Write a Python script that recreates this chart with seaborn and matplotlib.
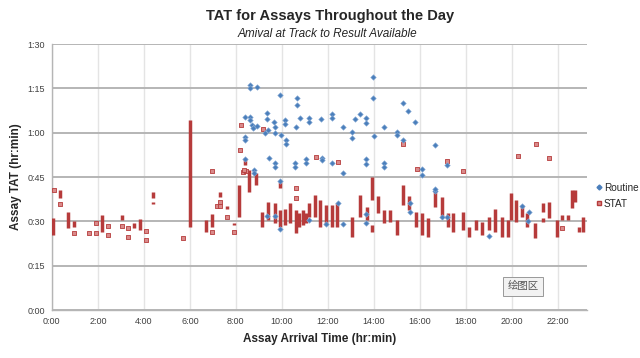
import numpy as np
import pandas as pd
import seaborn as sns
import matplotlib.pyplot as plt
from matplotlib.lines import Line2D

# Routine samples: arrival time (hours), TAT (minutes)
routine_x = [8.6, 8.6, 8.9, 9.9, 10.64, 10.64, 13.96, 13.96, 15.26, 15.5, 15.8,
             8.4, 8.6, 8.6, 9.35, 9.35, 9.67, 9.7, 9.7, 10.13, 10.13,
             8.7, 8.8, 8.9, 8.75, 8.4, 8.4, 9.26, 9.4, 9.96, 10.2, 10.2, 10.6,
             10.8, 11.2, 11.2, 11.7, 12.2, 12.2, 13.2, 12.65, 13.07, 13.07, 13.4,
             13.65, 13.65, 14.0, 14.43, 14.99, 14.99, 16.65, 17.2, 16.1, 16.1, 15.26,
             9.43, 9.7, 9.7, 10.57, 10.57, 11.04, 11.04, 11.73, 11.73, 12.2, 12.65,
             13.65, 13.65, 14.43, 14.43, 8.78, 8.78, 8.4, 9.9,
             9.35, 9.7, 9.9, 11.2, 11.94, 12.65, 12.43, 13.65, 13.65, 15.56, 15.56,
             16.65, 16.65, 17.2, 16.94, 20.46, 20.74, 20.7, 19.0]
routine_y = [76, 75, 75.5, 72.7, 71.7, 69.4, 78.8, 71.7, 70, 67.3, 63.6,
             65.3, 65.3, 64.3, 66.6, 64.6, 63.6, 62, 60, 64.3, 63,
             62.6, 62, 62.3, 61.6, 58.5, 57.5, 60, 61, 59.2, 57.5, 56.2, 62,
             64.9, 64.9, 63.6, 64.6, 66.3, 65, 64.6, 62, 60.2, 58.2, 66.3,
             65, 63.3, 58.9, 62, 60.2, 59.2, 55.8, 49, 47.7, 45.7, 57.5,
             51.4, 49.7, 48.4, 49.7, 48.4, 51, 49.7, 51.4, 50.7, 49.7, 46.3,
             51, 49.4, 49.7, 48.4, 47.4, 46.3, 51, 43.5,
             31.8, 31.8, 27.4, 30.4, 29.1, 29.1, 36.2, 32.5, 29.4, 36.2, 33.2,
             40.4, 41, 31.5, 31.5, 35.2, 33.3, 30, 25.1]

# STAT single samples
stat_x = [0.09, 0.35, 0.96, 1.6, 1.9, 1.9, 2.45, 2.45, 3.05, 3.3, 3.3, 4.1, 4.1,
          5.7, 6.98, 6.98, 7.3, 7.2, 7.3, 7.6, 7.9, 8.17, 8.24, 8.3, 8.45, 8.35,
          9.17, 10.6, 10.6, 11.5, 12.43, 15.26, 15.87, 17.2, 17.86, 20.25, 21.04,
          21.6, 22.2]
stat_y = [40.6, 35.9, 26, 26, 29.4, 26, 28.4, 25.4, 28.4, 27.7, 24.7, 26.7, 23.7,
          24.4, 26.4, 47, 36.5, 35.2, 35.2, 31.5, 26.4, 54.1, 62.6, 46.8, 47.2, 47.4,
          61.2, 41.3, 37.9, 51.8, 50, 56.2, 47.7, 50.4, 47.1, 52, 56.2,
          51.5, 27.7]

# STAT batches stacked at one arrival time: x, lowest TAT, highest TAT
batch_x = [0.05, 0.35, 0.7, 0.96, 2.17, 3.05, 3.57, 3.83, 4.4, 4.4, 6.0, 6.7, 6.98,
           7.3, 7.6, 7.9, 8.14, 8.4, 8.57, 8.87, 9.15, 9.4, 9.7, 9.9, 9.9, 10.13,
           10.35, 10.6, 10.74, 10.9, 11.07, 11.17, 11.43, 11.65, 11.94, 12.16, 12.38,
           13.03, 13.39, 13.68, 13.94, 13.94, 14.16, 14.45, 14.7, 14.99, 15.25, 15.54,
           15.83, 16.1, 16.36, 16.65, 16.94, 17.23, 17.45, 17.88, 18.13, 18.43, 18.7,
           19.0, 19.26, 19.55, 19.84, 19.94, 20.2, 20.42, 20.67, 21.0, 21.36, 21.36,
           21.6, 21.98, 22.2, 22.45, 22.6, 22.74, 22.93, 23.1]
batch_lo = [25.4, 38, 27.7, 28, 26.4, 30.5, 27.7, 27, 38, 35.9, 28, 26.4, 28,
            38.2, 34.2, 28.7, 31.5, 49, 40, 42.3, 28, 30.4, 29.4, 41.3, 28, 28.7,
            29.4, 26, 28, 28.7, 29.4, 31.5, 31.5, 28, 28.7, 28, 28,
            24.7, 31.5, 30.4, 37.2, 26.4, 32.8, 29.4, 29.8, 25.4, 35.5, 33.8,
            28, 25.4, 24.7, 34.8, 31.5, 28, 26.4, 27, 24.7, 27, 25.4,
            27, 26.4, 24.7, 24.7, 30.4, 29.8, 31.5, 28, 24.4, 33.2, 29.8,
            31.1, 24.7, 30.4, 30.4, 34.5, 36.5, 26.4, 26.4]
batch_hi = [31.1, 40.5, 33, 30, 32, 32, 29.4, 30.8, 40, 36.5, 64.3, 30.4, 32.5,
            40, 35.2, 29.4, 42.3, 51.4, 47.4, 46.3, 33.2, 36.5, 36.2, 43.3, 33.8, 34.2,
            36.2, 33.8, 32.8, 33.8, 32.8, 36.2, 38.9, 37.2, 35.5, 35.5, 36.2,
            31.5, 38.9, 34.8, 45, 28.7, 38.6, 33.8, 33.8, 30.4, 42.3, 38.6,
            33.2, 32.8, 31.1, 40.9, 38.2, 32.8, 32.8, 33.2, 28, 30.4, 29.8,
            31.5, 34.2, 31.5, 30.4, 39.6, 37.2, 35.5, 32.8, 29.4, 36.2, 31.1,
            36.5, 30.4, 32.2, 32.2, 40.6, 40.6, 28, 31.5]

x_ticks = [0, 2, 4, 6, 8, 10, 12, 14, 16, 18, 20, 22]
y_ticks = [0, 15, 30, 45, 60, 75, 90]

BLUE = "#4a7ebb"
RED = "#b63b3b"
PINK = "#d98a8a"

sns.set_style("white")
plt.rcParams["font.family"] = ["Liberation Sans", "DejaVu Sans"]

routine = pd.DataFrame({"arrival": routine_x, "tat": routine_y})
stat = pd.DataFrame({"arrival": stat_x, "tat": stat_y})

fig = plt.figure(figsize=(6.4, 3.58), dpi=100)
ax = fig.add_axes([0.081, 0.134, 0.836, 0.743])

ax.vlines(batch_x, batch_lo, batch_hi, color=RED, linewidth=2.5, zorder=3)
sns.scatterplot(data=stat, x="arrival", y="tat", ax=ax, marker="s", s=10,
                color=PINK, edgecolor=RED, linewidth=0.6, zorder=4)
sns.scatterplot(data=routine, x="arrival", y="tat", ax=ax, marker="D", s=8,
                color=BLUE, edgecolor="#8fb0d8", linewidth=0.4, zorder=5)

ax.set_xlim(0, 23.26)
ax.set_ylim(0, 90)
ax.set_xticks(x_ticks)
ax.set_xticklabels([f"{h}:00" for h in x_ticks])
ax.set_yticks(y_ticks)
ax.set_yticklabels([f"{m // 60}:{m % 60:02d}" for m in y_ticks])
ax.tick_params(labelsize=6.5, colors="#404040", length=3, width=0.8, pad=2)
ax.tick_params(axis="both", color="#bbbbbb")

ax.grid(axis="y", color="#b5b5b5", linewidth=1.4, zorder=0)
ax.grid(axis="x", color="#e4e4e4", linewidth=1.0, zorder=0)
for side in ["top", "right"]:
    ax.spines[side].set_visible(False)
for side in ["left", "bottom"]:
    ax.spines[side].set_color("#b5b5b5")
    ax.spines[side].set_linewidth(1.0)

ax.set_xlabel("Assay Arrival Time (hr:min)", fontsize=8.5, fontweight="bold", labelpad=5)
ax.set_ylabel("Assay TAT (hr:min)", fontsize=8.5, fontweight="bold", labelpad=4)

fig.text(0.516, 0.955, "TAT for Assays Throughout the Day", ha="center", va="center",
         fontsize=10.5, fontweight="bold")
fig.text(0.512, 0.905, "Amival at Track to Result Available", ha="center", va="center",
         fontsize=8.5, style="italic")

handles = [Line2D([], [], marker="D", linestyle="", markersize=2.5, color=BLUE, label="Routine"),
           Line2D([], [], marker="s", linestyle="", markersize=3.5, markerfacecolor=PINK,
                  markeredgecolor=RED, label="STAT")]
ax.legend(handles=handles, loc="center left", bbox_to_anchor=(1.0, 0.43), frameon=False,
          fontsize=7.2, handletextpad=0.1, handlelength=0.8, labelspacing=0.6, borderaxespad=0.4)

fig.text(0.817, 0.2, "绘图区", ha="center", va="center", fontsize=7.5, color="#555555",
         family=["Noto Sans CJK SC", "DejaVu Sans"],
         bbox=dict(boxstyle="square,pad=0.4", facecolor="#f2f2f2", edgecolor="#999999",
                   linewidth=0.7))

fig.savefig("out.png", dpi=100)
